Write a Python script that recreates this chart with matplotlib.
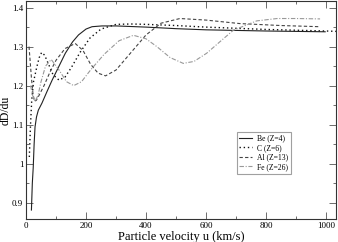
import matplotlib
matplotlib.use("Agg")
import matplotlib.pyplot as plt
from matplotlib.ticker import MultipleLocator, FuncFormatter

plt.rcParams['font.family'] = ['Liberation Serif', 'DejaVu Serif']

# Data
be_u = [18, 21, 24, 27, 30, 35, 41, 53, 70, 87, 110, 131, 155, 175, 200, 220, 253, 300, 400, 500, 600, 800, 997]
be_d = [0.881, 0.95, 0.99, 1.05, 1.094, 1.12, 1.137, 1.155, 1.185, 1.214, 1.25, 1.283, 1.312, 1.33, 1.345, 1.351, 1.353, 1.353, 1.35, 1.346, 1.343, 1.34, 1.338]

c_u = [11, 15, 19, 25, 36, 44, 52, 62, 75, 90, 110, 130, 150, 180, 213, 250, 300, 350, 400, 500, 600, 700, 800, 900, 1000, 1035]
c_d = [1.017, 1.10, 1.163, 1.21, 1.248, 1.272, 1.285, 1.278, 1.255, 1.228, 1.214, 1.222, 1.245, 1.285, 1.322, 1.345, 1.357, 1.358, 1.357, 1.354, 1.35, 1.347, 1.344, 1.342, 1.34, 1.339]

al_u = [10, 14, 18, 23, 28, 34, 40, 50, 60, 80, 100, 130, 164, 190, 215, 240, 265, 300, 350, 400, 450, 513, 600, 713, 850, 980]
al_d = [1.30, 1.26, 1.22, 1.18, 1.16, 1.162, 1.17, 1.185, 1.20, 1.235, 1.265, 1.295, 1.308, 1.29, 1.255, 1.232, 1.225, 1.24, 1.285, 1.33, 1.36, 1.372, 1.368, 1.359, 1.354, 1.351]

fe_u = [15, 22, 30, 40, 50, 65, 84, 110, 135, 159, 185, 215, 260, 310, 358, 400, 436, 480, 524, 560, 602, 650, 691, 769, 837, 900, 980]
fe_d = [1.20, 1.175, 1.16, 1.175, 1.21, 1.25, 1.267, 1.24, 1.21, 1.20, 1.21, 1.24, 1.28, 1.315, 1.329, 1.32, 1.30, 1.272, 1.257, 1.262, 1.283, 1.315, 1.342, 1.366, 1.372, 1.372, 1.371]

labels = ["Be (Z=4)", "C (Z=6)", "Al (Z=13)", "Fe (Z=26)"]

fig = plt.figure(figsize=(3.38, 2.42), dpi=100)
ax = fig.add_axes([0.077, 0.095, 0.917, 0.901])

ax.plot(be_u, be_d, color='#222222', lw=0.8, ls='-', label=labels[0])
ax.plot(c_u, c_d, color='#111111', lw=1.0, ls=(0, (1, 2)), label=labels[1])
ax.plot(al_u, al_d, color='#444444', lw=0.8, ls=(0, (3, 2)), label=labels[2])
ax.plot(fe_u, fe_d, color='#999999', lw=0.8, ls=(0, (4, 1.5, 1, 1.5)), label=labels[3])

ax.set_xlim(0, 1033)
ax.set_ylim(0.858, 1.417)
ax.xaxis.set_major_locator(MultipleLocator(200))
ax.xaxis.set_minor_locator(MultipleLocator(100))
ax.yaxis.set_major_locator(MultipleLocator(0.1))
ax.yaxis.set_minor_locator(MultipleLocator(0.05))
ax.yaxis.set_major_formatter(FuncFormatter(lambda v, p: ('%g' % round(v, 2))))
ax.tick_params(which='both', direction='in', top=True, right=True, labelsize=6.5, width=0.6, color='#555555', pad=2)
ax.tick_params(which='major', length=5)
ax.tick_params(which='minor', length=2.5)
for s in ax.spines.values():
    s.set_linewidth(0.8)
    s.set_color('#333333')

ax.set_xlabel("Particle velocity u (km/s)", fontsize=9, labelpad=1)
ax.set_ylabel("dD/du", fontsize=8.5)
ax.yaxis.set_label_coords(-0.045, 0.5)

leg = ax.legend(loc='upper left', bbox_to_anchor=(0.68, 0.40), fontsize=5.5, frameon=True,
                fancybox=False, edgecolor='#888888', handlelength=1.7, handletextpad=0.6,
                borderpad=0.35, labelspacing=0.2, borderaxespad=0)
leg.get_frame().set_linewidth(0.8)

fig.savefig("out.png", dpi=100)
